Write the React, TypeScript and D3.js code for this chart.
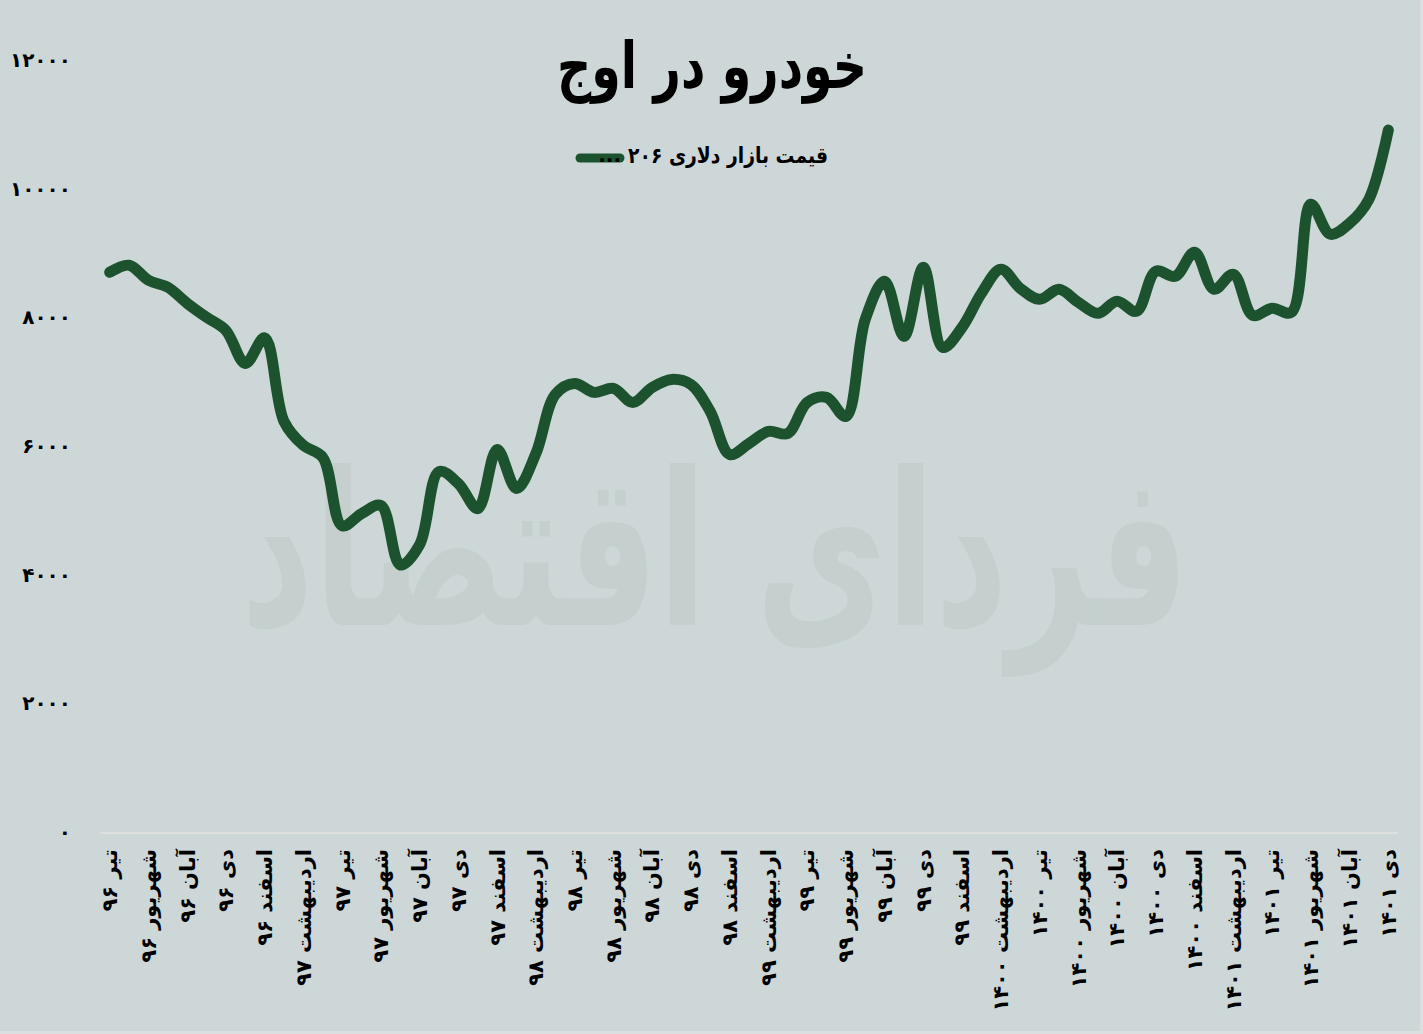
import React from 'react';
import * as d3 from 'd3';

const title = 'خودرو در اوج';
const seriesName = 'قیمت بازار دلاری ۲۰۶';
const watermark = 'فردای اقتصاد';

const months = [
  'تیر ۹۶', 'مرداد ۹۶', 'شهریور ۹۶', 'مهر ۹۶', 'آبان ۹۶', 'آذر ۹۶', 'دی ۹۶', 'بهمن ۹۶', 'اسفند ۹۶',
  'فروردین ۹۷', 'اردیبهشت ۹۷', 'خرداد ۹۷', 'تیر ۹۷', 'مرداد ۹۷', 'شهریور ۹۷', 'مهر ۹۷', 'آبان ۹۷', 'آذر ۹۷', 'دی ۹۷', 'بهمن ۹۷', 'اسفند ۹۷',
  'فروردین ۹۸', 'اردیبهشت ۹۸', 'خرداد ۹۸', 'تیر ۹۸', 'مرداد ۹۸', 'شهریور ۹۸', 'مهر ۹۸', 'آبان ۹۸', 'آذر ۹۸', 'دی ۹۸', 'بهمن ۹۸', 'اسفند ۹۸',
  'فروردین ۹۹', 'اردیبهشت ۹۹', 'خرداد ۹۹', 'تیر ۹۹', 'مرداد ۹۹', 'شهریور ۹۹', 'مهر ۹۹', 'آبان ۹۹', 'آذر ۹۹', 'دی ۹۹', 'بهمن ۹۹', 'اسفند ۹۹',
  'فروردین ۱۴۰۰', 'اردیبهشت ۱۴۰۰', 'خرداد ۱۴۰۰', 'تیر ۱۴۰۰', 'مرداد ۱۴۰۰', 'شهریور ۱۴۰۰', 'مهر ۱۴۰۰', 'آبان ۱۴۰۰', 'آذر ۱۴۰۰', 'دی ۱۴۰۰', 'بهمن ۱۴۰۰', 'اسفند ۱۴۰۰',
  'فروردین ۱۴۰۱', 'اردیبهشت ۱۴۰۱', 'خرداد ۱۴۰۱', 'تیر ۱۴۰۱', 'مرداد ۱۴۰۱', 'شهریور ۱۴۰۱', 'مهر ۱۴۰۱', 'آبان ۱۴۰۱', 'آذر ۱۴۰۱', 'دی ۱۴۰۱',
];

const prices = [
  8700, 8810, 8576, 8467, 8218, 8000, 7797, 7284, 7680,
  6381, 6008, 5821, 4760, 4950, 5074, 4150, 4467, 5603, 5416, 5027, 5946,
  5339, 5883, 6801, 6973, 6833, 6895, 6677, 6911, 7035, 6957, 6537, 5868,
  6039, 6226, 6195, 6677, 6755, 6459, 7969, 8560, 7704, 8778, 7533, 7844,
  8374, 8747, 8451, 8280, 8436, 8233, 8062, 8249, 8093, 8716, 8638, 9012,
  8436, 8669, 8031, 8140, 8078, 9759, 9292, 9463, 9837, 10911,
];

const yTicks = [0, 2000, 4000, 6000, 8000, 10000, 12000];

const W = 1423;
const H = 1034;
const FONT = '"DejaVu Sans", sans-serif';
const BG = '#cdd7d8';
const LINE = '#1c532e';

const faDigits = '۰۱۲۳۴۵۶۷۸۹';
const toFa = (n: number) => String(n).replace(/\d/g, (d) => faDigits[+d]);

export default function App() {
  const x = d3.scaleBand<string>().domain(months).range([100, 1398]);
  const y = d3.scaleLinear().domain([0, 12000]).range([832, 60]);
  const cx = (m: string) => (x(m) as number) + x.bandwidth() / 2;

  const line = d3
    .line<number>()
    .x((_, i) => cx(months[i]))
    .y((d) => y(d))
    .curve(d3.curveCatmullRom.alpha(0.5));

  return (
    <svg
      width={W}
      height={H}
      style={{ position: 'absolute', left: 0, top: 0, display: 'block' }}
      fontFamily={FONT}
    >
      <rect x={0} y={0} width={W} height={H} fill="#dcdfdf" />
      <rect x={0} y={0} width={1420} height={1031} fill={BG} />

      {/* watermark */}
      <text
        transform="translate(715,625) scale(1,1.5)"
        textAnchor="middle"
        fontSize={142}
        fontWeight="bold"
        fill="#c4cfce"
      >
        {watermark}
      </text>

      {/* title */}
      <text
        x={712}
        y={88}
        textAnchor="middle"
        fontSize={64}
        fontWeight="bold"
        fill="#000"
        textLength={310}
        lengthAdjust="spacingAndGlyphs"
      >
        {title}
      </text>

      {/* legend */}
      <line x1={580} x2={620} y1={158} y2={158} stroke={LINE} strokeWidth={9} strokeLinecap="round" />
      <text x={621} y={162} textAnchor="end" fontSize={20} fontWeight="bold" fill="#000">
        ...
      </text>
      <text
        x={828}
        y={163}
        textAnchor="end"
        fontSize={22}
        fontWeight="bold"
        fill="#000"
        textLength={200}
        lengthAdjust="spacingAndGlyphs"
      >
        {seriesName}
      </text>

      {/* y axis labels */}
      {yTicks.map((t) => (
        <text key={t} x={71} y={y(t)} dy="0.35em" textAnchor="end" fontSize={20} fontWeight="bold" fill="#000">
          {toFa(t)}
        </text>
      ))}

      {/* x axis line */}
      <line x1={100} x2={1398} y1={833} y2={833} stroke="#dde0de" strokeWidth={2} />

      {/* x labels */}
      {months.map((m, i) =>
        i % 2 === 0 ? (
          <text
            key={m}
            transform={`translate(${cx(m)},849) rotate(-90)`}
            dy="0.35em"
            textAnchor="end"
            fontSize={21}
            fontWeight="bold"
            fill="#000"
          >
            {m}
          </text>
        ) : null
      )}

      {/* series */}
      <path d={line(prices) || ''} fill="none" stroke={LINE} strokeWidth={11} strokeLinecap="round" strokeLinejoin="round" />
    </svg>
  );
}
